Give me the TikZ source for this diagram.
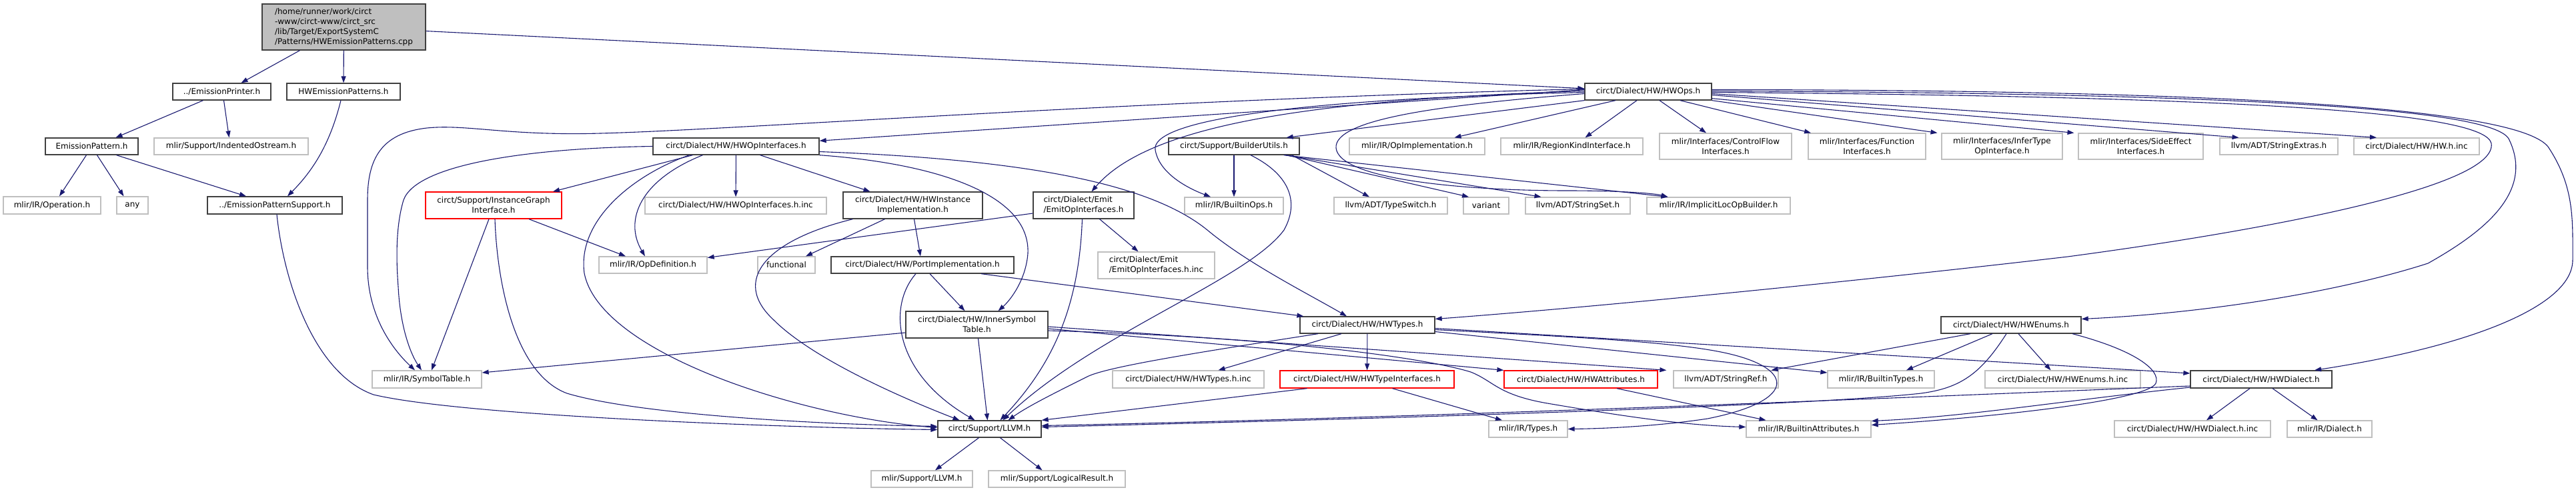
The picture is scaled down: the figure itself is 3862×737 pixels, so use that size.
\documentclass[tikz,border=0pt]{standalone}
\usepackage{fontspec}
\setmainfont{DejaVu Sans}
\usetikzlibrary{arrows.meta}
\definecolor{cedge}{HTML}{191970}
\definecolor{cdoc}{HTML}{404040}
\definecolor{cext}{HTML}{BFBFBF}
\definecolor{cinc}{HTML}{FF0000}
\tikzset{
  hbox/.style={draw=#1, fill=white, line width=1.3pt, inner sep=0pt, align=center,
               font=\fontsize{12}{15}\selectfont},
  doc/.style={hbox=cdoc},
  ext/.style={hbox=cext},
  inc/.style={hbox=cinc},
  rootbox/.style={hbox=cdoc, fill=cext, align=left},
  sz/.style 2 args={minimum width=#1pt, minimum height=#2pt},
  dep/.style={-{Triangle[length=10pt,width=7pt]}, line width=1.1pt, cedge},
}

\begin{document}
\begin{tikzpicture}[x=1pt, y=-1pt]
\useasboundingbox (0,0) rectangle (3862,737);
% row 1 and 2
\node[rootbox, sz={245}{69}] (root) at (515.5,40.5)
  {/home/runner/work/circt\\-www/circt-www/circt\_src\\/lib/Target/ExportSystemC\\/Patterns/HWEmissionPatterns.cpp};
\node[doc, sz={147}{25}] (eprinter) at (332.5,137.5) {../EmissionPrinter.h};
\node[doc, sz={170}{25}] (hwemitpat) at (515,137.5) {HWEmissionPatterns.h};
\node[doc, sz={190}{25}] (hwops) at (2471,137.5) {circt/Dialect/HW/HWOps.h};
% row 3
\node[doc, sz={139}{25}] (emitpat) at (137.5,219.5) {EmissionPattern.h};
\node[ext, sz={231}{25}] (indent) at (346.5,219.5) {mlir/Support/IndentedOstream.h};
\node[doc, sz={249}{25}] (hwopif) at (1103.5,219.5) {circt/Dialect/HW/HWOpInterfaces.h};
\node[doc, sz={196}{25}] (builder) at (1850,219.5) {circt/Support/BuilderUtils.h};
\node[ext, sz={203}{25}] (opimpl) at (2124.5,219.5) {mlir/IR/OpImplementation.h};
\node[ext, sz={213}{25}] (regionkind) at (2356.5,219.5) {mlir/IR/RegionKindInterface.h};
\node[ext, sz={198}{39}] (cflow) at (2587,219.5) {mlir/Interfaces/ControlFlow\\Interfaces.h};
\node[ext, sz={176}{39}] (funcif) at (2799,219.5) {mlir/Interfaces/Function\\Interfaces.h};
\node[ext, sz={181}{39}] (infertype) at (3001.5,219.5) {mlir/Interfaces/InferType\\OpInterface.h};
\node[ext, sz={187}{39}] (sideeff) at (3209.5,219.5) {mlir/Interfaces/SideEffect\\Interfaces.h};
\node[ext, sz={177}{25}] (strext) at (3416.5,219.5) {llvm/ADT/StringExtras.h};
\node[ext, sz={188}{25}] (hwinc) at (3623,219.5) {circt/Dialect/HW/HW.h.inc};
% row 4
\node[ext, sz={146}{26}] (operation) at (78,308) {mlir/IR/Operation.h};
\node[ext, sz={47}{26}] (any) at (198.5,308) {any};
\node[doc, sz={202}{26}] (epsupport) at (412,308) {../EmissionPatternSupport.h};
\node[inc, sz={204}{40}] (instgraph) at (740,308) {circt/Support/InstanceGraph\\Interface.h};
\node[ext, sz={272}{25}] (hwopifinc) at (1103,308.5) {circt/Dialect/HW/HWOpInterfaces.h.inc};
\node[doc, sz={209}{40}] (hwinst) at (1368.5,308) {circt/Dialect/HW/HWInstance\\Implementation.h};
\node[doc, sz={151}{40}, align=left] (emitif) at (1624.5,308) {circt/Dialect/Emit\\/EmitOpInterfaces.h};
\node[ext, sz={148}{25}] (builtinops) at (1850,308.5) {mlir/IR/BuiltinOps.h};
\node[ext, sz={170}{25}] (typeswitch) at (2085,308.5) {llvm/ADT/TypeSwitch.h};
\node[ext, sz={68}{25}] (variant) at (2228,308.5) {variant};
\node[ext, sz={157}{25}] (strset) at (2365.5,308.5) {llvm/ADT/StringSet.h};
\node[ext, sz={215}{25}] (implicit) at (2576.5,308.5) {mlir/IR/ImplicitLocOpBuilder.h};
% row 5
\node[ext, sz={162}{25}] (opdef) at (979,397.5) {mlir/IR/OpDefinition.h};
\node[ext, sz={86}{25}] (functional) at (1179,397.5) {functional};
\node[doc, sz={274}{25}] (portimpl) at (1383,397.5) {circt/Dialect/HW/PortImplementation.h};
\node[ext, sz={175}{40}, align=left] (emitinc) at (1733.5,398) {circt/Dialect/Emit\\/EmitOpInterfaces.h.inc};
% row 6
\node[doc, sz={213}{40}] (innersym) at (1464.5,487) {circt/Dialect/HW/InnerSymbol\\Table.h};
\node[doc, sz={202}{25}] (hwtypes) at (2050,487.5) {circt/Dialect/HW/HWTypes.h};
\node[doc, sz={210}{25}] (hwenums) at (3015,487.5) {circt/Dialect/HW/HWEnums.h};
% row 7
\node[ext, sz={164}{26}] (symtab) at (640,569) {mlir/IR/SymbolTable.h};
\node[ext, sz={227}{26}] (hwtypesinc) at (1781.5,569) {circt/Dialect/HW/HWTypes.h.inc};
\node[inc, sz={261}{26}] (hwtypeif) at (2049.5,569) {circt/Dialect/HW/HWTypeInterfaces.h};
\node[inc, sz={230}{26}] (hwattr) at (2370,569) {circt/Dialect/HW/HWAttributes.h};
\node[ext, sz={157}{26}] (strref) at (2587.5,569) {llvm/ADT/StringRef.h};
\node[ext, sz={160}{26}] (builtintypes) at (2820,569) {mlir/IR/BuiltinTypes.h};
\node[ext, sz={233}{26}] (hwenumsinc) at (3092.5,569) {circt/Dialect/HW/HWEnums.h.inc};
\node[doc, sz={212}{26}] (hwdialect) at (3390,569) {circt/Dialect/HW/HWDialect.h};
% row 8 and 9
\node[doc, sz={155}{25}] (llvm) at (1483.5,643.5) {circt/Support/LLVM.h};
\node[ext, sz={118}{25}] (types) at (2291,643.5) {mlir/IR/Types.h};
\node[ext, sz={187}{25}] (builtinattr) at (2711.5,643.5) {mlir/IR/BuiltinAttributes.h};
\node[ext, sz={234}{25}] (hwdialectinc) at (3287,643.5) {circt/Dialect/HW/HWDialect.h.inc};
\node[ext, sz={127}{25}] (dialect) at (3492.5,643.5) {mlir/IR/Dialect.h};
\node[ext, sz={152}{25}] (mlirllvm) at (1382,718.5) {mlir/Support/LLVM.h};
\node[ext, sz={205}{25}] (logical) at (1584.5,718.5) {mlir/Support/LogicalResult.h};

% edges: left part
\draw[dep] ([xshift=-66pt]root.south) -- ([xshift=29pt]eprinter.north);
\draw[dep] (root) -- (hwemitpat);
\draw[dep] (root) -- (hwops);
\draw[dep] ([xshift=-28pt]eprinter.south) -- ([xshift=36pt]emitpat.north);
\draw[dep] ([xshift=3pt]eprinter.south) -- ([xshift=-3pt]indent.north);
\draw[dep] ([xshift=-8pt]emitpat.south) -- ([xshift=11pt]operation.north);
\draw[dep] ([xshift=8pt]emitpat.south) -- ([xshift=-13pt]any.north);
\draw[dep] ([xshift=37pt]emitpat.south) -- ([xshift=-43pt]epsupport.north);
\draw[dep] ([xshift=-4pt]hwemitpat.south) .. controls (495,215) and (470,255) .. ([xshift=19pt]epsupport.north);
\draw[dep] ([xshift=3pt]epsupport.south) .. controls (425,420) and (470,560) .. (560,592)
  .. controls (700,625) and (1200,642) .. ([yshift=-1pt]llvm.west);

% edges: HWOps
\draw[dep] ([yshift=3pt]hwops.west) -- (hwopif);
\draw[dep] ([yshift=4pt]hwops.west) .. controls (1700,150) and (1100,195) .. (900,200)
  .. controls (760,204) and (700,186) .. (640,192) .. controls (570,200) and (551,240) .. (551,300)
  -- (551,400) .. controls (551,480) and (595,530) .. ([xshift=-18pt]symtab.north);
\draw[dep] ([yshift=1pt]hwops.west) .. controls (1950,150) and (1720,190) .. ([xshift=12pt]emitif.north);
\draw[dep] ([yshift=-1pt]hwops.west) .. controls (1900,150) and (1725,185) .. (1732,225)
  .. controls (1738,260) and (1780,282) .. ([xshift=-35pt]builtinops.north);
\draw[dep] (hwops.south west) -- ([xshift=-20pt]builder.north east);
\draw[dep] ([yshift=-3pt]hwops.west) .. controls (2150,158) and (2000,180) .. (2003,222)
  .. controls (2008,270) and (2200,286) .. (2350,286) .. controls (2430,286) and (2480,290) .. ([xshift=-76pt]implicit.north);
\draw[dep] ([xshift=-49pt]hwops.south) -- ([xshift=56pt]opimpl.north);
\draw[dep] ([xshift=-17pt]hwops.south) -- ([xshift=20pt]regionkind.north);
\draw[dep] ([xshift=17pt]hwops.south) -- ([xshift=-29pt]cflow.north);
\draw[dep] ([xshift=48pt]hwops.south) -- ([xshift=-84pt]funcif.north);
\draw[dep] (hwops.south east) -- ([xshift=-97pt]infertype.north);
\draw[dep] ([yshift=3pt]hwops.south east) -- ([xshift=-100pt]sideeff.north);
\draw[dep] ([yshift=-5pt]hwops.east) -- ([xshift=-60pt]strext.north);
\draw[dep] ([yshift=-3pt]hwops.east) -- ([xshift=-60pt]hwinc.north);
\draw[dep] ([yshift=-1pt]hwops.east) .. controls (3400,145) and (3725,170) .. (3735,215)
  .. controls (3745,280) and (3400,345) .. (3100,385) .. controls (2800,420) and (2400,460) .. ([yshift=9pt]hwtypes.east);
\draw[dep] ([yshift=1pt]hwops.east) .. controls (3400,140) and (3745,165) .. (3762,210)
  .. controls (3800,290) and (3720,350) .. (3640,395) .. controls (3500,440) and (3300,470) .. ([yshift=9pt]hwenums.east);
\draw[dep] ([yshift=3pt]hwops.east) .. controls (3450,135) and (3780,170) .. (3820,220)
  .. controls (3860,280) and (3857,330) .. (3857,390) .. controls (3857,460) and (3700,520) .. ([xshift=80pt]hwdialect.north);

% edges: BuilderUtils and Emit
\draw[dep] (builder) -- (builtinops);
\draw[dep] ([xshift=-12pt]builder.south east) -- ([xshift=-32pt]typeswitch.north);
\draw[dep] ([xshift=-20pt]builder.south east) -- ([xshift=-26pt]variant.north);
\draw[dep] ([xshift=-22pt]builder.south east) -- ([xshift=-55pt]strset.north);
\draw[dep] ([xshift=-24pt]builder.south east) -- ([xshift=-76pt]implicit.north);
\draw[dep] ([xshift=25pt]builder.south) .. controls (1930,260) and (1950,300) .. (1925,345)
  .. controls (1870,420) and (1640,500) .. ([xshift=20pt]llvm.north);
\draw[dep] ([yshift=-12pt]emitif.west) -- ([yshift=11pt]opdef.east);
\draw[dep] ([xshift=-2pt]emitif.south) .. controls (1618,450) and (1585,540) .. ([xshift=16pt]llvm.north);
\draw[dep] ([xshift=24pt]emitif.south) -- ([xshift=-27pt]emitinc.north);

% edges: HWOpInterfaces
\draw[dep] (hwopif.west) .. controls (800,222) and (625,245) .. (605,300)
  .. controls (593,340) and (594,390) .. (597,430) .. controls (600,490) and (615,530) .. ([xshift=-8pt]symtab.north);
\draw[dep] ([xshift=-65pt]hwopif.south) -- ([xshift=89pt]instgraph.north);
\draw[dep] ([xshift=-50pt]hwopif.south) .. controls (960,270) and (935,330) .. ([xshift=-12pt]opdef.north);
\draw[dep] ([xshift=-70pt]hwopif.south) .. controls (950,262) and (865,330) .. (876,410)
  .. controls (900,530) and (1200,625) .. ([yshift=2pt]llvm.west);
\draw[dep] (hwopif) -- (hwopifinc);
\draw[dep] ([xshift=36pt]hwopif.south) -- ([xshift=-64pt]hwinst.north);
\draw[dep] (hwopif.south east) .. controls (1400,245) and (1545,290) .. (1541,380)
  .. controls (1538,420) and (1515,450) .. ([xshift=32pt]innersym.north);
\draw[dep] ([yshift=-8pt]hwopif.east) .. controls (1560,240) and (1730,280) .. (1810,345)
  .. controls (1870,395) and (1960,440) .. ([xshift=-31pt]hwtypes.north);

% edges: InstanceGraph, HWInstance, PortImplementation
\draw[dep] ([xshift=-7pt]instgraph.south) -- ([xshift=7pt]symtab.north);
\draw[dep] ([xshift=2pt]instgraph.south) .. controls (745,420) and (770,560) .. (850,590)
  .. controls (950,620) and (1200,636) .. ([yshift=4pt]llvm.west);
\draw[dep] ([xshift=53pt]instgraph.south) -- ([xshift=-41pt]opdef.north);
\draw[dep] ([xshift=-42pt]hwinst.south) -- ([xshift=29pt]functional.north);
\draw[dep] ([xshift=2pt]hwinst.south) -- ([xshift=-3pt]portimpl.north);
\draw[dep] ([xshift=-90pt]hwinst.south) .. controls (1150,360) and (1095,420) .. (1160,480)
  .. controls (1220,540) and (1360,600) .. ([xshift=-45pt]llvm.north);
\draw[dep] ([xshift=11pt]portimpl.south) -- ([xshift=-18pt]innersym.north);
\draw[dep] ([xshift=-10pt]portimpl.south) .. controls (1330,460) and (1340,560) .. ([xshift=-22pt]llvm.north);
\draw[dep] ([xshift=88pt]portimpl.south) -- ([xshift=6pt]hwtypes.north west);

% edges: InnerSymbolTable
\draw[dep] ([yshift=-12pt]innersym.west) -- ([yshift=10pt]symtab.east);
\draw[dep] ([xshift=2pt]innersym.south) -- ([xshift=-3pt]llvm.north);
\draw[dep] ([yshift=-6pt]innersym.east) -- (hwattr.north west);
\draw[dep] ([yshift=-3pt]innersym.east) -- ([xshift=-10pt]strref.north west);
\draw[dep] ([yshift=-9pt]innersym.east) .. controls (1900,505) and (2130,535) .. (2205,558)
  .. controls (2240,572) and (2245,592) .. (2320,605) .. controls (2420,622) and (2520,638) .. ([yshift=3pt]builtinattr.west);

% edges: HWTypes
\draw[dep] (hwtypes) -- (hwtypeif);
\draw[dep] ([xshift=-39pt]hwtypes.south) -- ([xshift=45pt]hwtypesinc.north);
\draw[dep] ([xshift=-74pt]hwtypes.south) .. controls (1800,528) and (1660,550) .. (1630,565)
  .. controls (1580,590) and (1540,610) .. ([xshift=28pt]llvm.north);
\draw[dep] ([yshift=-5pt]hwtypes.east) -- ([yshift=9pt]hwdialect.west);
\draw[dep] ([yshift=-7pt]hwtypes.east) .. controls (2350,505) and (2500,512) .. (2580,528)
  .. controls (2690,550) and (2700,600) .. (2560,628) .. controls (2480,640) and (2400,643) .. (types.east);
\draw[dep] ([yshift=-10pt]hwtypes.east) -- ([yshift=10pt]builtintypes.west);
\draw[dep] ([xshift=-90pt]hwtypeif.south) -- (llvm.north east);
\draw[dep] ([xshift=38pt]hwtypeif.south) -- ([xshift=-39pt]types.north);
\draw[dep] ([xshift=54pt]hwattr.south) -- ([xshift=-64pt]builtinattr.north);

% edges: HWEnums and HWDialect
\draw[dep] ([xshift=-61pt]hwenums.south) -- ([xshift=68pt]strref.north);
\draw[dep] ([xshift=-28pt]hwenums.south) -- ([xshift=38pt]builtintypes.north);
\draw[dep] ([xshift=11pt]hwenums.south) -- ([xshift=-18pt]hwenumsinc.north);
\draw[dep] ([xshift=-7pt]hwenums.south) .. controls (2970,560) and (2940,582) .. (2880,590)
  .. controls (2700,610) and (2000,630) .. ([yshift=3pt]llvm.east);
\draw[dep] ([xshift=92pt]hwenums.south) .. controls (3200,525) and (3240,555) .. (3232,575)
  .. controls (3220,600) and (3000,625) .. ([yshift=6pt]builtinattr.east);
\draw[dep] ([xshift=-17pt]hwdialect.south) -- ([xshift=21pt]hwdialectinc.north);
\draw[dep] ([xshift=17pt]hwdialect.south) -- ([xshift=-18pt]dialect.north);
\draw[dep] ([yshift=-10pt]hwdialect.west) .. controls (3000,590) and (2200,625) .. ([yshift=5pt]llvm.east);
\draw[dep] ([yshift=-12pt]hwdialect.west) .. controls (3100,600) and (2950,625) .. ([yshift=12pt]builtinattr.east);

% edges: LLVM
\draw[dep] ([xshift=-16pt]llvm.south) -- ([xshift=20pt]mlirllvm.north);
\draw[dep] ([xshift=16pt]llvm.south) -- ([xshift=-22pt]logical.north);
\end{tikzpicture}
\end{document}
